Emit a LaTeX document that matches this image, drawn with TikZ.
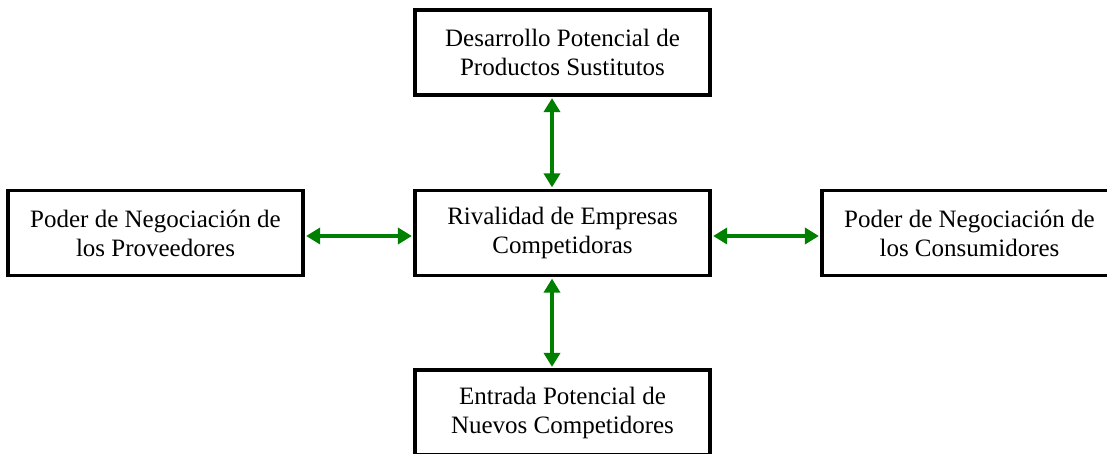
\documentclass[tikz,border=0pt]{standalone}
\usepackage{fontspec}
\setmainfont{Liberation Serif}
\usetikzlibrary{arrows.meta}
\definecolor{arrgreen}{RGB}{0,128,0}
\begin{document}
\begin{tikzpicture}[x=1pt,y=1pt,
  forcebox/.style={draw=black, line width=3.2pt, minimum width=295pt, minimum height=85pt,
    inner sep=0pt, align=center, font=\fontsize{25}{29}\selectfont},
  linkarrow/.style={draw=arrgreen, line width=3.5pt, {Triangle[length=14pt,width=16pt]}-{Triangle[length=14pt,width=16pt]}, shorten <=1.5pt, shorten >=1.5pt}]
\useasboundingbox (0,0) rectangle (1107,454);
\node[forcebox] (top) at (562.5,401.5) {Desarrollo Potencial de\\Productos Sustitutos};
\node[forcebox] (mid) at (562.5,221) {Rivalidad de Empresas\\Competidoras};
\node[forcebox] (left) at (155.5,221) {Poder de Negociación de\\los Proveedores};
\node[forcebox] (right) at (969.5,221) {Poder de Negociación de\\los Consumidores};
\node[forcebox] (bot) at (562.5,41.5) {Entrada Potencial de\\Nuevos Competidores};
\draw[linkarrow] ([xshift=-10.5pt]top.south) -- ([xshift=-10.5pt]mid.north);
\draw[linkarrow] ([xshift=-10.5pt]mid.south) -- ([xshift=-10.5pt]bot.north);
\draw[linkarrow] ([yshift=-3pt]left.east) -- ([yshift=-3pt]mid.west);
\draw[linkarrow] ([yshift=-3pt]mid.east) -- ([yshift=-3pt]right.west);
\end{tikzpicture}
\end{document}
